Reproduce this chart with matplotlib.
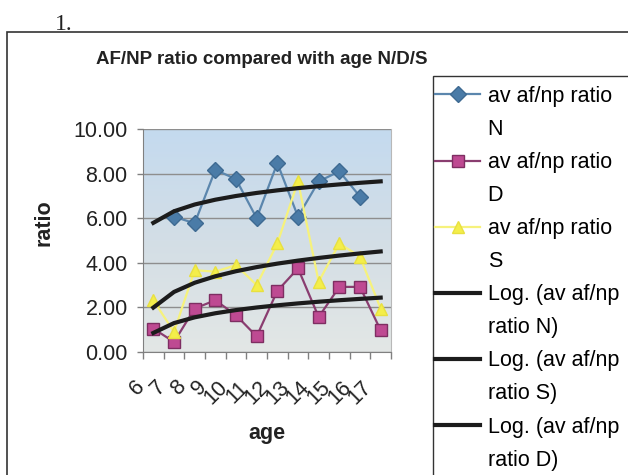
import numpy as np
import matplotlib
matplotlib.use("Agg")
import matplotlib.pyplot as plt
from matplotlib.lines import Line2D
from matplotlib.patches import Rectangle
from matplotlib.colors import LinearSegmentedColormap
from matplotlib.transforms import ScaledTranslation

plt.rcParams['font.family'] = ['Liberation Sans', 'DejaVu Sans']

# data
ages = ['6', '7', '8', '9', '10', '11', '12', '13', '14', '15', '16', '17']
ratio_n = [np.nan, 6.07, 5.77, 8.17, 7.75, 6.00, 8.47, 6.07, 7.65, 8.10, 6.97, np.nan]
ratio_d = [1.05, 0.45, 1.95, 2.32, 1.65, 0.70, 2.74, 3.75, 1.57, 2.92, 2.92, 0.97]
ratio_s = [2.32, 0.90, 3.67, 3.60, 3.90, 3.00, 4.87, 7.65, 3.15, 4.87, 4.27, 1.95]
yticks = [0, 2, 4, 6, 8, 10]


def log_trend(vals):
    # Excel style logarithmic trendline, x = 1..n
    y = np.array(vals, dtype=float)
    x = np.arange(1, len(y) + 1)
    ok = ~np.isnan(y)
    a, b = np.polyfit(np.log(x[ok]), y[ok], 1)
    return a * np.log(x) + b


W, H = 628, 475
fig = plt.figure(figsize=(W / 100, H / 100), dpi=100)
fig.patch.set_facecolor('white')

ax = fig.add_axes([143 / W, 1 - 352 / H, 248 / W, 223 / H])

# plot area gradient
cmap = LinearSegmentedColormap.from_list('bg', ['#E3E7E5', '#D3DEE6', '#C4DAEF'])
grad = np.linspace(0, 1, 256).reshape(-1, 1)
ax.imshow(grad, extent=[0, 1, 0, 1], transform=ax.transAxes, cmap=cmap,
          origin='lower', aspect='auto', interpolation='bicubic', zorder=0)

x = np.arange(len(ages))

ln_n, = ax.plot(x, ratio_n, color='#5B86AD', lw=1.6, marker='D', ms=8,
                mfc='#4A7BA7', mec='#3E6A92', zorder=3)
ln_d, = ax.plot(x, ratio_d, color='#8A3D70', lw=1.6, marker='s', ms=8.7,
                mfc='#BE4A92', mec='#7E2E62', zorder=3)
ln_s, = ax.plot(x, ratio_s, color='#F6F27C', lw=1.6, marker='^', ms=8,
                mfc='#F4EE4A', mec='#E8E040', zorder=3)

tr_n, = ax.plot(x, log_trend(ratio_n), color='#1C1C1C', lw=3, zorder=4)
tr_s, = ax.plot(x, log_trend(ratio_s), color='#1C1C1C', lw=3, zorder=4)
tr_d, = ax.plot(x, log_trend(ratio_d), color='#1C1C1C', lw=3, zorder=4)

ax.set_xlim(-0.5, len(ages) - 0.5)
ax.set_ylim(0, 10)
ax.set_yticks(yticks)
ax.set_yticklabels([f'{v:.2f}' for v in yticks], fontsize=15.5, color='#222222')
ax.yaxis.grid(True, color='#8E8E8E', lw=1)
ax.set_axisbelow(True)
ax.tick_params(axis='y', length=4, width=1, color='#808080', pad=7)

ax.set_xticks(x)
ax.set_xticks(np.arange(-0.5, len(ages)), minor=True)
ax.set_xticklabels(ages, fontsize=15.5, color='#222222', rotation=45,
                   ha='right', va='center', rotation_mode='anchor')
ax.tick_params(axis='x', which='major', length=0, pad=0)
ax.tick_params(axis='x', which='minor', length=5, width=1, color='#808080')
off = ScaledTranslation(-0.12, -0.32, fig.dpi_scale_trans)
for lab in ax.get_xticklabels():
    lab.set_transform(lab.get_transform() + off)

for s in ['left', 'bottom']:
    ax.spines[s].set_color('#808080')
ax.spines['top'].set_visible(False)
ax.spines['right'].set_color('#B8B8B8')

ax.set_ylabel('ratio', fontsize=15.5, fontweight='bold', color='#222222')
ax.yaxis.set_label_coords((44 - 143) / 248, (352 - 223) / 223)
ax.yaxis.label.set_va('center')
ax.set_xlabel('age', fontsize=15.5, fontweight='bold', color='#222222')
ax.xaxis.set_label_coords(0.5, (352 - 433) / 223)
ax.xaxis.label.set_va('center')

fig.text(262 / W, 1 - 60 / H, 'AF/NP ratio compared with age N/D/S',
         ha='center', va='center', fontsize=13.5, fontweight='bold', color='#222222')

# page decorations: figure number and chart frame
fig.text(55 / W, 1 - 30 / H, '1.', family='Liberation Serif', fontsize=17,
         ha='left', va='baseline', color='#222222')
fig.add_artist(Rectangle((7 / W, -0.1), 1.2, 1 - 32 / H + 0.1, transform=fig.transFigure,
                         fill=False, ec='#333333', lw=1.2))
fig.add_artist(Rectangle((433 / W, -0.1), 1.2, 1 - 76 / H + 0.1, transform=fig.transFigure,
                         fill=False, ec='#333333', lw=1))

blank = Line2D([], [], color='none')
handles = [ln_n, blank, ln_d, blank, ln_s, blank, tr_n, blank, tr_s, blank, tr_d, blank]
labels = ['av af/np ratio', 'N', 'av af/np ratio', 'D', 'av af/np ratio', 'S',
          'Log. (av af/np', 'ratio N)', 'Log. (av af/np', 'ratio S)',
          'Log. (av af/np', 'ratio D)']
fig.legend(handles, labels, loc='upper left', bbox_to_anchor=(435 / W, 1 - 86 / H),
           bbox_transform=fig.transFigure, frameon=False, fontsize=15.5,
           handlelength=2.1, handletextpad=0.35, labelspacing=0.56,
           borderaxespad=0, borderpad=0)

fig.savefig('out.png', dpi=100)
